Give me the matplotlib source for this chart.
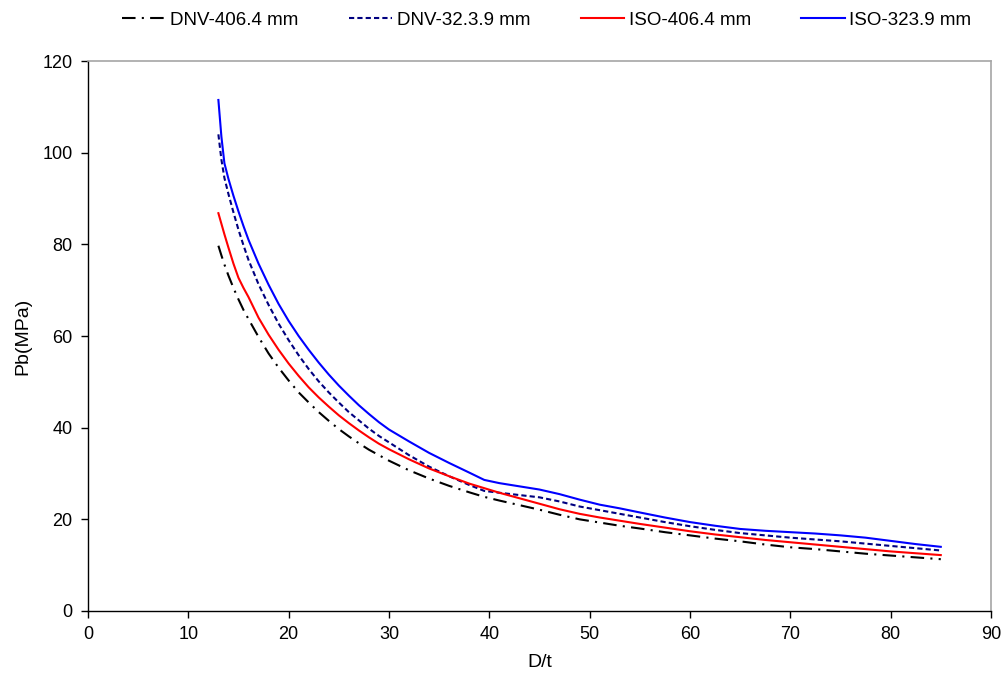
import matplotlib.pyplot as plt

plt.rcParams["font.family"] = ["Liberation Sans", "DejaVu Sans"]

# D/t ratios and burst pressures (MPa)
d_over_t = [13, 13.3, 13.6, 14, 14.5, 15, 15.5, 16, 17, 18, 19, 20, 21, 22, 23, 24,
            25, 26, 27, 28, 29, 30, 32, 34, 36, 38, 39.5, 41, 43, 45, 47, 49, 51,
            53, 55, 57.5, 60, 62.5, 65, 67.5, 70, 72.5, 75, 77.5, 80, 82.5, 85]
dnv_406 = [79.7, 77.6, 75.6, 73.2, 70.5, 68.0, 65.7, 63.7, 59.8, 56.2, 53.1, 50.3,
           47.7, 45.5, 43.4, 41.5, 39.7, 38.1, 36.6, 35.2, 34.0, 32.8, 30.7, 28.9,
           27.3, 25.9, 24.9, 24.1, 23.1, 22.1, 21.0, 20.0, 19.3, 18.6, 18.0, 17.2,
           16.5, 15.8, 15.2, 14.5, 13.9, 13.5, 13.0, 12.5, 12.1, 11.7, 11.3]
dnv_323 = [104.0, 98.5, 94.5, 91.0, 87.0, 83.2, 79.8, 76.6, 71.3, 66.8, 62.7, 59.1,
           55.8, 52.8, 50.1, 47.7, 45.5, 43.4, 41.6, 39.8, 38.2, 36.8, 34.0, 31.5,
           29.4, 27.5, 26.2, 25.8, 25.3, 24.8, 23.9, 22.8, 22.0, 21.2, 20.4, 19.4,
           18.5, 17.7, 17.0, 16.5, 16.0, 15.6, 15.2, 14.7, 14.2, 13.7, 13.2]
iso_406 = [86.8, 84.5, 82.2, 79.3, 75.8, 72.7, 70.5, 68.5, 64.0, 60.3, 57.0, 54.0,
           51.3, 48.8, 46.6, 44.6, 42.7, 41.0, 39.4, 37.9, 36.5, 35.3, 33.1, 31.1,
           29.4, 27.8, 26.8, 25.8, 24.6, 23.4, 22.2, 21.2, 20.4, 19.7, 19.0, 18.2,
           17.4, 16.7, 16.1, 15.5, 15.0, 14.5, 14.0, 13.5, 13.0, 12.6, 12.2]
iso_323 = [111.5, 103.5, 97.7, 94.3, 90.6, 87.2, 84.0, 81.0, 75.8, 71.2, 67.0, 63.3,
           60.0, 57.0, 54.2, 51.6, 49.2, 47.0, 44.9, 43.0, 41.2, 39.6, 37.0, 34.5,
           32.3, 30.2, 28.6, 27.9, 27.2, 26.5, 25.5, 24.3, 23.2, 22.4, 21.5, 20.4,
           19.4, 18.6, 17.9, 17.5, 17.2, 16.9, 16.5, 16.0, 15.3, 14.6, 14.0]

fig = plt.figure(figsize=(10.04, 6.81), dpi=100)
ax = fig.add_axes([0.0876, 0.1028, 0.8994, 0.8076])

ax.plot(d_over_t, dnv_406, color="black", lw=1.5, dashes=(6.5, 3, 1, 3),
        label="DNV-406.4 mm")
ax.plot(d_over_t, dnv_323, color="#000080", lw=1.5, dashes=(2.5, 1.5),
        label="DNV-32.3.9 mm")
ax.plot(d_over_t, iso_406, color="#ff0000", lw=1.5, label="ISO-406.4 mm")
ax.plot(d_over_t, iso_323, color="#0000ff", lw=1.5, label="ISO-323.9 mm")

ax.set_xlim(0, 90)
ax.set_ylim(0, 120)
ax.set_xticks(range(0, 91, 10))
ax.set_yticks(range(0, 121, 20))
ax.tick_params(direction="out", length=5, width=1, labelsize=13, pad=6)

for side in ("left", "bottom"):
    ax.spines[side].set_color("black")
    ax.spines[side].set_linewidth(1)
for side in ("top", "right"):
    ax.spines[side].set_color("#a6a6a6")
    ax.spines[side].set_linewidth(1.2)

ax.set_xlabel("D/t", fontsize=14, labelpad=8)
ax.set_ylabel("Pb(MPa)", fontsize=14, labelpad=8)

ax.legend(loc="center", bbox_to_anchor=(0.508, 1.0745), ncol=4, frameon=False,
          fontsize=13.5, handlelength=2.3, handletextpad=0.25, columnspacing=2.7)

fig.savefig("out.png", dpi=100)
